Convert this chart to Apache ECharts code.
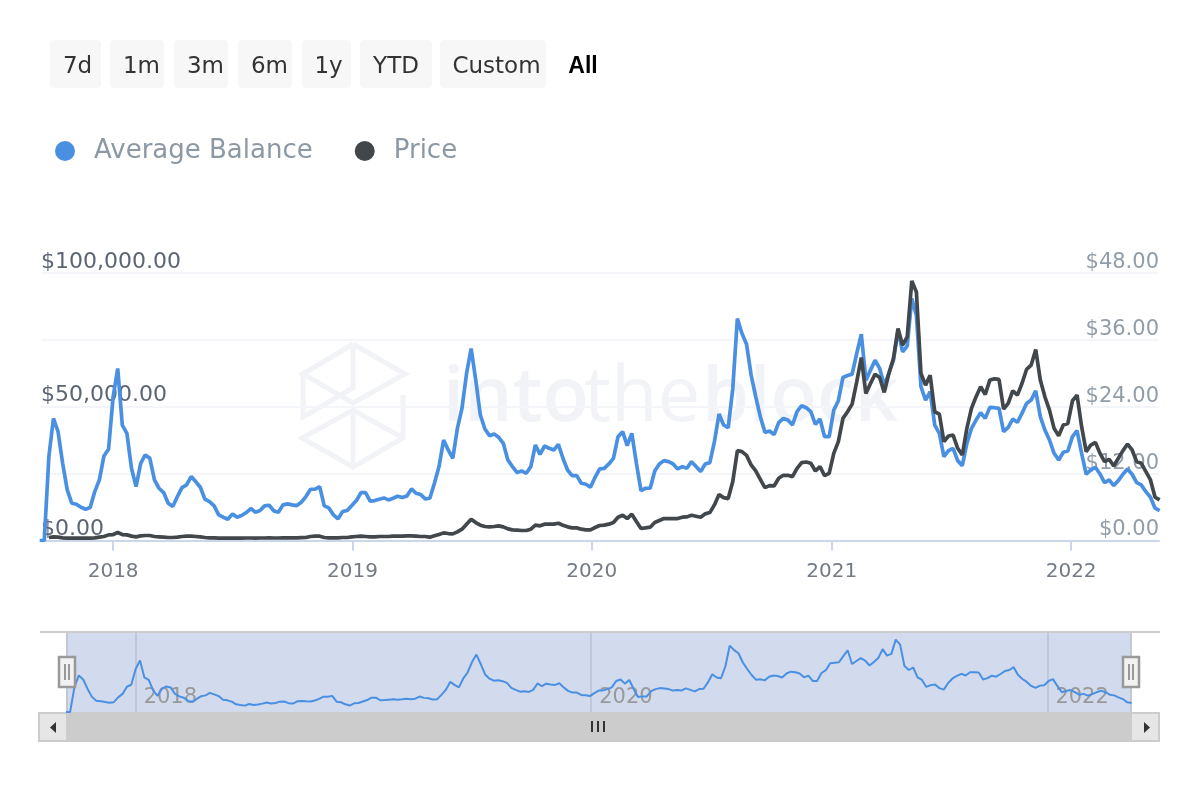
<!DOCTYPE html>
<html>
<head>
<meta charset="utf-8">
<style>
html, body { margin: 0; padding: 0; background: #fff; }
#main { width: 1200px; height: 800px; }
</style>
<script src="https://cdn.jsdelivr.net/npm/echarts@6/dist/echarts.min.js"></script>
</head>
<body>
<div id="main"></div>
<script>
// weekly readings from 2017-09-11, USD
const avgBalance = [
  0,0,31350,45650,40680,28860,18910,13930,13560,12440,11690,12320,18290,22640,31600,34090,53740,64310,43170,40060,
  26990,20150,28860,31970,30730,22640,19530,17910,13930,12690,16420,19780,20770,23880,22020,19900,15430,14550,12940,9580,
  8710,7960,9950,8710,9330,10450,11940,10570,11200,12940,13190,11070,10570,13310,13680,13310,13060,14310,16420,19160,
  19160,20150,12940,12190,9580,8090,10820,11200,13060,14930,17910,17910,14680,14930,15430,15920,15180,15800,16550,16050,
  16670,19280,17660,17170,15550,15800,21400,27620,37570,33840,30730,41920,49390,62450,71780,59960,46900,41670,39190,39810,
  38560,36320,30100,27620,25380,26000,25130,27620,35700,32220,35330,34460,33840,35950,30730,26370,24260,24260,21400,21020,
  19900,23640,26750,26990,28610,30730,38810,40680,35450,40060,28860,18660,19530,19530,26000,28610,29860,29480,28610,26750,
  27620,26990,29480,27620,25750,28610,29110,36950,47270,43170,42170,56850,82970,77380,73400,61830,53740,46280,40430,40930,
  39560,44040,45650,45030,43170,48140,50380,49640,48140,43420,45410,38810,38810,48760,52250,60960,61700,62200,69910,77130,
  59960,63690,67420,64310,58090,62450,67420,78620,70530,72650,90440,84220,57470,52500,55610,43170,40060,31350,33590,34460,
  29860,27990,36320,41920,45030,47770,45650,49760,49640,49390,40680,42300,45410,44160,47520,51250,52500,55980,46280,41300,
  37570,32590,30100,32970,33460,38810,41050,32590,24760,26370,27370,24880,21650,22640,20530,22390,24760,26750,24760,21650,
  20770,18290,16170,12070,11200
];
const price = [
  null,null,0.54,0.66,0.60,0.48,0.42,0.42,0.42,0.42,0.42,0.42,0.48,0.60,0.72,1.01,1.07,1.43,1.07,1.01,
  0.78,0.66,0.84,0.90,0.90,0.72,0.66,0.60,0.54,0.54,0.60,0.72,0.78,0.78,0.72,0.66,0.54,0.48,0.48,0.42,
  0.42,0.42,0.42,0.42,0.42,0.45,0.45,0.42,0.45,0.45,0.48,0.45,0.45,0.48,0.48,0.48,0.48,0.51,0.54,0.72,
  0.78,0.78,0.54,0.48,0.48,0.48,0.54,0.54,0.66,0.72,0.78,0.72,0.66,0.66,0.72,0.72,0.72,0.78,0.78,0.78,
  0.84,0.84,0.78,0.72,0.72,0.60,0.84,1.07,1.37,1.25,1.19,1.55,2.03,2.93,3.82,3.22,2.75,2.51,2.45,2.51,
  2.63,2.45,2.09,1.91,1.85,1.79,1.79,2.03,2.75,2.63,2.93,2.93,2.93,3.10,2.75,2.45,2.27,2.27,2.03,1.91,
  1.91,2.33,2.69,2.75,2.93,3.22,4.18,4.54,3.94,4.72,3.40,2.15,2.27,2.39,3.22,3.58,3.94,3.94,3.94,3.94,
  4.18,4.24,4.54,4.36,4.18,4.78,5.01,6.39,8.24,7.70,7.52,10.57,16.12,15.94,15.28,13.55,12.48,10.98,9.49,9.85,
  9.79,11.16,11.70,11.70,11.46,12.95,13.97,14.09,13.85,12.48,13.25,11.64,12.06,15.64,17.73,21.91,23.10,24.48,28.48,32.84,
  26.39,28.18,29.85,29.25,26.57,29.97,32.66,38.03,35.04,36.54,46.57,44.60,29.97,27.88,29.67,23.10,22.69,17.73,18.75,18.92,
  16.54,15.34,20.12,23.70,25.79,27.58,26.21,28.78,29.01,28.90,23.58,24.60,26.87,26.09,28.18,30.69,31.46,34.27,28.78,25.79,
  23.40,20.12,18.81,20.72,21.01,25.07,26.09,20.42,15.94,17.13,17.61,15.64,14.15,14.57,13.37,14.75,16.12,17.31,16.24,14.15,
  13.85,12.36,10.87,7.76,7.28
];
const rangeButtons = ['7d', '1m', '3m', '6m', '1y', 'YTD', 'Custom'];
const buttonLeft = [50, 110, 174, 238, 302, 360, 440];
const buttonWidth = [51, 54, 54, 54, 49, 72, 106];
const buttonTextX = [77.5, 141.5, 205.5, 269.5, 328.5, 396, 496.5];
const mainYears = [2018, 2019, 2020, 2021, 2022];
const navYears = [2018, 2020, 2022];

const WEEK = 7 * 24 * 3600 * 1000;
const firstWeek = new Date(2017, 8, 11).getTime();
const dates = avgBalance.map((v, i) => firstWeek + i * WEEK);
const axisMin = new Date(2017, 8, 13).getTime();
const axisMax = new Date(2022, 4, 15).getTime();
const yearStart = y => new Date(y, 0, 1).getTime();
// 12h guards against rounding when turning a tick back into a year
const yearLabel = v => String(new Date(v + 43200000).getFullYear());
const FONT = 'DejaVu Sans';

let chart = echarts.init(document.getElementById('main'));

// range selector buttons
let graphics = [];
rangeButtons.forEach(function (name, i) {
  graphics.push({
    type: 'rect', shape: { x: buttonLeft[i], y: 40, width: buttonWidth[i], height: 48, r: 4 },
    style: { fill: '#f7f7f7' }
  });
  graphics.push({
    type: 'text', x: buttonTextX[i], y: 67,
    style: { text: name, fill: '#333', font: '23px ' + FONT, textAlign: 'center', textVerticalAlign: 'middle' }
  });
});
graphics.push({
  type: 'text', x: 583, y: 67,
  style: { text: 'All', fill: '#000', font: 'bold 23px "Liberation Sans"', textAlign: 'center', textVerticalAlign: 'middle' }
});

// watermark
const markColor = '#f1f3f7';
[
  [[353, 344], [405, 374], [353, 403], [303, 374], [353, 344]],
  [[303, 374], [303, 417], [353, 388], [353, 344]],
  [[403, 395], [403, 438], [353, 467], [302, 438], [353, 410], [403, 438]],
  [[353, 410], [353, 467]]
].forEach(function (pts) {
  graphics.push({ type: 'polyline', z: -1, shape: { points: pts }, style: { stroke: markColor, lineWidth: 5, fill: null } });
});
[['into', 443, '600'], ['the', 584, 'normal'], ['block', 702, '600']].forEach(function (t) {
  graphics.push({
    type: 'text', z: -1, x: t[1], y: 437,
    style: { text: t[0], fill: markColor, font: t[2] + ' 76px "Open Sans"', textVerticalAlign: 'bottom', textBaseline: 'alphabetic' }
  });
});

// navigator frame and scrollbar
graphics.push({ type: 'rect', shape: { x: 40, y: 631, width: 1120, height: 2 }, style: { fill: '#ccc' } });
graphics.push({ type: 'rect', shape: { x: 66, y: 633, width: 2, height: 79 }, style: { fill: '#c4c8d0' } });
graphics.push({ type: 'rect', shape: { x: 1130, y: 633, width: 2, height: 79 }, style: { fill: '#c4c8d0' } });
graphics.push({ type: 'rect', shape: { x: 38, y: 712, width: 1122, height: 30 }, style: { fill: '#ccc' } });
graphics.push({ type: 'rect', shape: { x: 40, y: 714, width: 26, height: 26 }, style: { fill: '#e6e6e6' } });
graphics.push({ type: 'rect', shape: { x: 1132, y: 714, width: 26, height: 26 }, style: { fill: '#e6e6e6' } });
graphics.push({ type: 'polygon', shape: { points: [[56, 722], [56, 733], [50, 727.5]] }, style: { fill: '#333' } });
graphics.push({ type: 'polygon', shape: { points: [[1144, 722], [1144, 733], [1150, 727.5]] }, style: { fill: '#333' } });
[591, 597, 603].forEach(function (x) {
  graphics.push({ type: 'rect', shape: { x: x, y: 721, width: 2, height: 11 }, style: { fill: '#333' } });
});
[59, 1123].forEach(function (x) {
  graphics.push({ type: 'rect', z: 10, shape: { x: x, y: 657, width: 16, height: 30 }, style: { fill: '#f2f2f2', stroke: '#999', lineWidth: 2.5 } });
  graphics.push({ type: 'rect', z: 11, shape: { x: x + 5, y: 664, width: 2, height: 16 }, style: { fill: '#999' } });
  graphics.push({ type: 'rect', z: 11, shape: { x: x + 9, y: 664, width: 2, height: 16 }, style: { fill: '#999' } });
});

let option = {
  animation: false,
  textStyle: { fontFamily: FONT },
  graphic: graphics,
  legend: {
    data: ['Average Balance', 'Price'],
    left: 50, top: 133,
    icon: 'circle',
    itemWidth: 20, itemHeight: 20, itemGap: 42,
    textStyle: { fontSize: 26, color: '#8c99a5', fontFamily: FONT, padding: [0, 0, 0, 14] }
  },
  grid: [
    { left: 41, right: 41, top: 273, height: 267.5 },
    { left: 67, right: 69, top: 632, height: 80, show: true, backgroundColor: '#d2daed', borderWidth: 0 }
  ],
  xAxis: [
    {
      type: 'value', gridIndex: 0, min: axisMin, max: axisMax, scale: true,
      axisLine: { onZero: false, lineStyle: { color: '#ccd6eb', width: 2 } },
      axisTick: { show: true, length: 10, lineStyle: { color: '#ccd6eb', width: 2 }, customValues: mainYears.map(yearStart) },
      axisLabel: {
        customValues: mainYears.map(yearStart), margin: 21, fontSize: 20, color: '#757b85', fontFamily: FONT,
        formatter: yearLabel
      },
      splitLine: { show: false }
    },
    {
      type: 'value', gridIndex: 1, min: axisMin, max: axisMax, scale: true,
      axisLine: { show: false },
      axisTick: { show: false, customValues: navYears.map(yearStart) },
      axisLabel: {
        customValues: navYears.map(yearStart), inside: true, margin: 4, fontSize: 21, color: '#999', fontFamily: FONT,
        align: 'left', padding: [0, 0, 0, 8],
        formatter: yearLabel
      },
      splitLine: { show: true, lineStyle: { color: '#bfc7d8', width: 2 } }
    }
  ],
  yAxis: [
    {
      type: 'value', gridIndex: 0, min: 0, max: 100000, interval: 25000, position: 'left',
      axisLine: { show: false }, axisTick: { show: false },
      splitLine: { lineStyle: { color: '#f4f5f8', width: 2 } },
      axisLabel: {
        inside: true, margin: 0, fontSize: 22, color: '#5c6573', fontFamily: FONT,
        verticalAlign: 'bottom',
        formatter: v => v % 50000 === 0 ? '$' + v.toLocaleString('en-US', { minimumFractionDigits: 2 }) : ''
      }
    },
    {
      type: 'value', gridIndex: 0, min: 0, max: 48, interval: 12, position: 'right',
      axisLine: { show: false }, axisTick: { show: false }, splitLine: { show: false },
      axisLabel: {
        inside: true, margin: 0, fontSize: 21, color: '#919da8', fontFamily: FONT,
        verticalAlign: 'bottom',
        formatter: v => '$' + v.toFixed(2)
      }
    },
    { type: 'value', gridIndex: 1, min: 0, max: 100000, show: false, splitLine: { show: false } }
  ],
  series: [
    {
      name: 'Average Balance', type: 'line', xAxisIndex: 0, yAxisIndex: 0, showSymbol: false,
      data: dates.map((d, i) => [d, avgBalance[i]]),
      lineStyle: { color: '#4a90e2', width: 3.7 }, itemStyle: { color: '#4a90e2' }
    },
    {
      name: 'Price', type: 'line', xAxisIndex: 0, yAxisIndex: 1, showSymbol: false,
      data: dates.map((d, i) => [d, price[i]]),
      lineStyle: { color: '#42474c', width: 3.7 }, itemStyle: { color: '#42474c' }
    },
    {
      name: 'Navigator', type: 'line', xAxisIndex: 1, yAxisIndex: 2, showSymbol: false,
      data: dates.map((d, i) => [d, avgBalance[i]]),
      lineStyle: { color: '#4a90e2', width: 2 }, itemStyle: { color: '#4a90e2' }
    }
  ]
};
chart.setOption(option);
</script>
</body>
</html>
